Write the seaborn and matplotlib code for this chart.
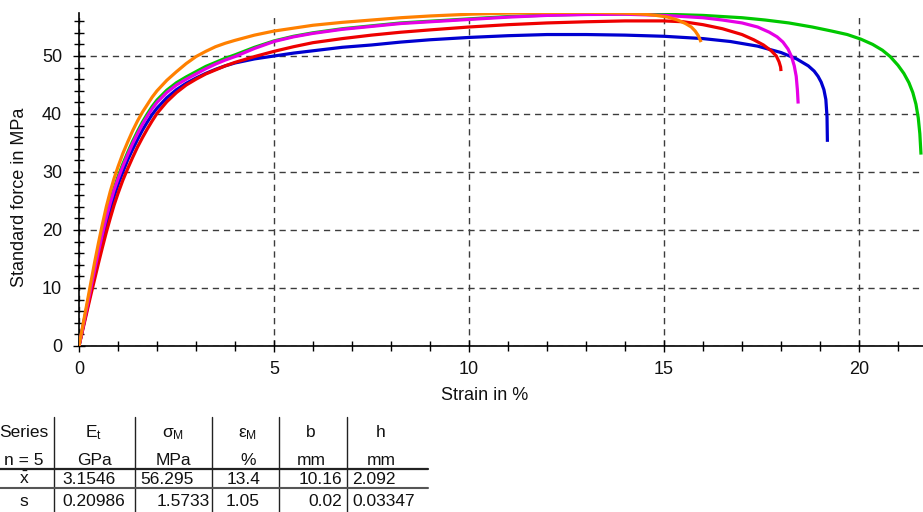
import matplotlib
matplotlib.use("Agg")
import matplotlib.pyplot as plt
import numpy as np
import pandas as pd
import seaborn as sns
from matplotlib.ticker import MultipleLocator
from matplotlib.lines import Line2D

# ---------------- data ----------------
series_order = ["S3", "S5", "S2", "S4", "S1"]
series_colors = ["#00c800", "#0000d0", "#ee0000", "#e600e6", "#ff8000"]

strain_s1 = [0, 0.1, 0.2, 0.3, 0.4, 0.5, 0.6, 0.7, 0.8, 0.9, 1.0, 1.125, 1.25, 1.375, 1.5, 1.625, 1.75,
             1.875, 2.0, 2.25, 2.5, 2.75, 3.0, 3.25, 3.5, 3.75, 4.0, 4.5, 5.0, 5.5, 6.0, 6.75, 7.5, 8.25,
             9.0, 10.0, 11.0, 12.0, 13.0, 14.0, 14.5, 14.8, 15.1, 15.35, 15.55, 15.7, 15.8, 15.88, 15.95]
force_s1 = [0, 3.6, 7.2, 10.8, 14.4, 17.8, 21.0, 24.0, 26.6, 28.9, 30.9, 33.2, 35.2, 37.1, 38.8, 40.3, 41.6,
            42.9, 44.0, 45.8, 47.3, 48.7, 49.9, 50.8, 51.6, 52.2, 52.7, 53.6, 54.3, 54.8, 55.3, 55.8, 56.2, 56.6,
            56.9, 57.2, 57.4, 57.5, 57.55, 57.4, 57.2, 57.0, 56.7, 56.2, 55.6, 55.0, 54.3, 53.5, 52.4]

strain_s4 = [0, 0.1, 0.2, 0.3, 0.4, 0.5, 0.6, 0.7, 0.8, 0.9, 1.0, 1.125, 1.25, 1.375, 1.5, 1.625, 1.75,
             1.875, 2.0, 2.25, 2.5, 2.75, 3.0, 3.25, 3.5, 3.75, 4.0, 4.5, 5.0, 5.5, 6.0, 6.75, 7.5, 8.25,
             9.0, 10.0, 11.0, 12.0, 13.0, 14.0, 15.0, 16.0, 16.5, 17.0, 17.4, 17.7, 17.9, 18.05, 18.18,
             18.27, 18.34, 18.39, 18.42, 18.44]
force_s4 = [0, 3.3, 6.6, 9.9, 13.1, 16.3, 19.3, 22.1, 24.6, 26.9, 28.8, 31.0, 33.0, 34.9, 36.6, 38.2, 39.6,
            40.9, 42.0, 43.7, 45.0, 46.0, 46.9, 47.8, 48.6, 49.3, 49.9, 51.3, 52.5, 53.3, 53.9, 54.6, 55.1, 55.6,
            55.9, 56.3, 56.7, 57.0, 57.15, 57.2, 57.0, 56.6, 56.2, 55.7, 55.0, 54.1, 53.3, 52.4, 51.2,
            49.9, 48.3, 46.5, 44.2, 41.8]

strain_s3 = [0, 0.1, 0.2, 0.3, 0.4, 0.5, 0.6, 0.7, 0.8, 0.9, 1.0, 1.125, 1.25, 1.375, 1.5, 1.625, 1.75,
             1.875, 2.0, 2.25, 2.5, 2.75, 3.0, 3.25, 3.5, 3.75, 4.0, 4.5, 5.0, 5.5, 6.0, 6.75, 7.5, 8.25,
             9.0, 10.0, 11.0, 12.0, 13.0, 14.0, 15.0, 16.0, 17.0, 17.6, 18.2, 18.8, 19.3, 19.7, 20.05,
             20.35, 20.6, 20.8, 21.0, 21.15, 21.28, 21.38, 21.46, 21.52, 21.56, 21.59]
force_s3 = [0, 3.35, 6.7, 10.0, 13.3, 16.5, 19.6, 22.4, 25.0, 27.2, 29.2, 31.4, 33.4, 35.3, 37.0, 38.6, 40.0,
            41.3, 42.4, 44.1, 45.4, 46.4, 47.3, 48.2, 48.9, 49.6, 50.2, 51.5, 52.6, 53.4, 54.0, 54.7, 55.2, 55.7,
            56.0, 56.4, 56.8, 57.05, 57.2, 57.25, 57.2, 57.0, 56.6, 56.2, 55.7, 55.0, 54.3, 53.7, 52.9,
            52.0, 51.0, 49.9, 48.4, 47.0, 45.4, 43.7, 41.7, 39.3, 36.6, 33.0]

strain_s2 = [0, 0.1, 0.2, 0.3, 0.4, 0.5, 0.6, 0.7, 0.8, 0.9, 1.0, 1.125, 1.25, 1.375, 1.5, 1.625, 1.75,
             1.875, 2.0, 2.25, 2.5, 2.75, 3.0, 3.25, 3.5, 3.75, 4.0, 4.5, 5.0, 5.5, 6.0, 6.75, 7.5, 8.25,
             9.0, 10.0, 11.0, 12.0, 13.0, 14.0, 15.0, 15.5, 16.0, 16.5, 17.0, 17.3, 17.55, 17.75, 17.88,
             17.95, 17.99, 18.0]
force_s2 = [0, 2.9, 5.8, 8.7, 11.5, 14.3, 17.0, 19.6, 22.0, 24.3, 26.3, 28.6, 30.6, 32.5, 34.3, 35.9, 37.4,
            38.8, 40.1, 42.1, 43.7, 45.0, 46.0, 46.9, 47.6, 48.3, 48.9, 49.9, 50.8, 51.6, 52.3, 53.0, 53.6, 54.1,
            54.5, 55.0, 55.4, 55.7, 55.9, 56.05, 56.05, 55.9, 55.4, 54.7, 53.7, 52.8, 51.9, 50.9, 50.0,
            49.0, 48.1, 47.4]

strain_s5 = [0, 0.1, 0.2, 0.3, 0.4, 0.5, 0.6, 0.7, 0.8, 0.9, 1.0, 1.125, 1.25, 1.375, 1.5, 1.625, 1.75,
             1.875, 2.0, 2.25, 2.5, 2.75, 3.0, 3.25, 3.5, 3.75, 4.0, 4.5, 5.0, 5.5, 6.0, 6.75, 7.5, 8.25,
             9.0, 10.0, 11.0, 12.0, 13.0, 14.0, 15.0, 16.0, 16.7, 17.4, 18.0, 18.4, 18.7, 18.85, 18.95,
             19.03, 19.1, 19.15, 19.18, 19.19]
force_s5 = [0, 3.1, 6.2, 9.3, 12.3, 15.3, 18.2, 21.0, 23.5, 25.8, 27.8, 30.0, 32.1, 33.9, 35.6, 37.2, 38.6,
            39.9, 41.0, 42.8, 44.2, 45.3, 46.2, 47.0, 47.7, 48.3, 48.8, 49.5, 50.0, 50.5, 50.9, 51.5, 51.9, 52.4,
            52.8, 53.2, 53.5, 53.7, 53.7, 53.6, 53.4, 53.0, 52.5, 51.7, 50.6, 49.5, 48.3, 47.4, 46.5,
            45.5, 44.2, 42.5, 39.5, 35.2]

x_major_ticks = [0, 5, 10, 15, 20]
y_major_ticks = [0, 10, 20, 30, 40, 50]

table_header = ["Series", "E$_\\mathregular{t}$", "σ$_\\mathregular{M}$", "ε$_\\mathregular{M}$", "b", "h"]
table_units = ["n = 5", "GPa", "MPa", "%", "mm", "mm"]
table_mean = ["$\\bar{\\mathregular{x}}$", "3.1546", "56.295", "13.4", "10.16", "2.092"]
table_sd = ["s", "0.20986", "1.5733", "1.05", "0.02", "0.03347"]

# ---------------- figure ----------------
sns.set_theme(style="ticks")
plt.rcParams["font.family"] = ["Liberation Sans", "DejaVu Sans"]
plt.rcParams["mathtext.fontset"] = "custom"
plt.rcParams["mathtext.rm"] = "Liberation Sans"
plt.rcParams["mathtext.it"] = "Liberation Sans:italic"
plt.rcParams["mathtext.bf"] = "Liberation Sans:bold"

W, H = 923, 512
fig = plt.figure(figsize=(W / 100, H / 100), dpi=100)
fig.patch.set_facecolor("white")
ax_left, ax_bottom_px, ax_top_px = 79, 346, 12.5
ax = fig.add_axes([ax_left / W, 1 - ax_bottom_px / H, (W - ax_left) / W, (ax_bottom_px - ax_top_px) / H])

frames = []
for name, sx, fy in [("S1", strain_s1, force_s1), ("S2", strain_s2, force_s2),
                     ("S3", strain_s3, force_s3), ("S4", strain_s4, force_s4),
                     ("S5", strain_s5, force_s5)]:
    frames.append(pd.DataFrame({"strain": sx, "force": fy, "series": name}))
df = pd.concat(frames, ignore_index=True)

sns.lineplot(data=df, x="strain", y="force", hue="series", hue_order=series_order,
             palette=dict(zip(series_order, series_colors)), sort=False, estimator=None,
             linewidth=2.3, legend=False, ax=ax, zorder=3)
for ln in ax.get_lines():
    ln.set_solid_joinstyle("round")
    ln.set_solid_capstyle("butt")

ax.set_xlim(0, (W - ax_left) / 39.0)
ax.set_ylim(0, (ax_bottom_px - ax_top_px) / 5.8)
ax.set_xticks(x_major_ticks)
ax.set_yticks(y_major_ticks)
ax.xaxis.set_minor_locator(MultipleLocator(1))
ax.yaxis.set_minor_locator(MultipleLocator(2))

for s in ["top", "right"]:
    ax.spines[s].set_visible(False)
for s in ["left", "bottom"]:
    ax.spines[s].set_color("black")
    ax.spines[s].set_linewidth(1.2)

ax.tick_params(which="major", direction="inout", length=9, width=1.0, color="black",
               labelsize=13, labelcolor="#111111")
ax.tick_params(which="minor", direction="inout", length=6.5, width=1.0, color="black")
ax.tick_params(axis="y", which="major", pad=7.7)
ax.tick_params(axis="x", which="major", pad=6.3)

ax.grid(True, which="major", color="#3c3c3c", linewidth=1.0, linestyle=(0, (4.5, 3.5)))
ax.set_axisbelow(True)

ax.set_xlabel("Strain in %", fontsize=13, color="#111111")
ax.set_ylabel("Standard force in MPa", fontsize=13, color="#111111")
ax.xaxis.label.set_va("center")
ax.yaxis.label.set_va("center")
ax.xaxis.set_label_coords((485 - ax_left) / (W - ax_left), -(395 - ax_bottom_px) / (ax_bottom_px - ax_top_px))
ax.yaxis.set_label_coords((20 - ax_left) / (W - ax_left), (ax_bottom_px - 197) / (ax_bottom_px - ax_top_px))


# ---------------- table below the chart ----------------
def P(x, y):
    return (x / W, 1 - y / H)


fs_t = 12.5
col_center = [24, 94, 173, 248, 311, 381]
rows_hdr = [(437, table_header), (465, table_units)]
for yb, row in rows_hdr:
    for xc, txt in zip(col_center, row):
        fig.text(*P(xc, yb), txt, ha="center", va="baseline", fontsize=fs_t, color="#111111")

mean_pos = [(24, "center"), (62, "left"), (140, "left"), (260, "right"), (342, "right"), (352, "left")]
sd_pos = [(24, "center"), (62, "left"), (210, "right"), (260, "right"), (342, "right"), (352, "left")]
for yb, row, pos in [(484.5, table_mean, mean_pos), (506.5, table_sd, sd_pos)]:
    for (xp, ha), txt in zip(pos, row):
        fig.text(*P(xp, yb), txt, ha=ha, va="baseline", fontsize=fs_t, color="#111111")

for xv in [53.5, 135, 212, 279, 346.5]:
    x0, y0 = P(xv, 417)
    x1, y1 = P(xv, 512)
    fig.add_artist(Line2D([x0, x1], [y0, y1], transform=fig.transFigure, color="#222222", lw=1.0))
for yv, lw, c in [(469, 1.6, "#222222"), (487.5, 1.5, "#555555")]:
    x0, y0 = P(0, yv)
    x1, y1 = P(428, yv)
    fig.add_artist(Line2D([x0, x1], [y0, y1], transform=fig.transFigure, color=c, lw=lw))

fig.savefig("out.png", dpi=100, facecolor="white")
